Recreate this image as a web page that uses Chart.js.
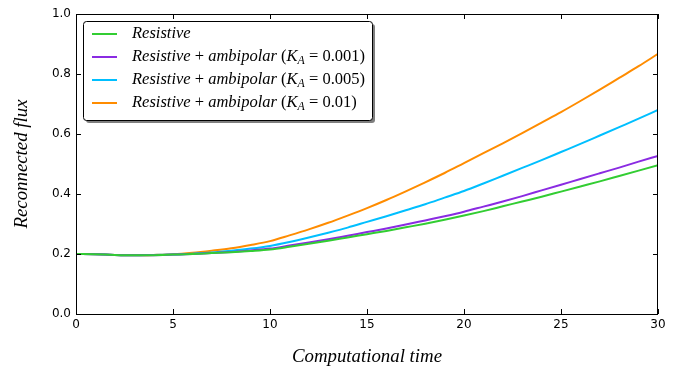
<!DOCTYPE html>
<html>
<head>
<meta charset="utf-8">
<script src="https://cdn.jsdelivr.net/npm/chart.js@4/dist/chart.umd.min.js"></script>
<style>
  html, body { margin: 0; padding: 0; background: #fff; }
  #wrap { width: 688px; height: 369px; }
</style>
</head>
<body>
<div id="wrap"><canvas id="c" width="688" height="369"></canvas></div>
<script>
// Computational time samples
const time = [0,1,2,3,4,5,6,7,8,9,10,11,12,13,14,15,16,17,18,19,20,21,22,23,24,25,26,27,28,29,30];

// Reconnected flux for each run
const resistive = [0.200,0.199,0.197,0.196,0.196,0.198,0.200,0.203,0.206,0.210,0.215,0.224,0.234,0.244,0.255,0.266,0.277,0.289,0.301,0.314,0.328,0.343,0.359,0.375,0.391,0.408,0.425,0.442,0.460,0.478,0.496];
const ambipolar001 = [0.200,0.199,0.197,0.196,0.196,0.198,0.200,0.203,0.207,0.212,0.218,0.228,0.238,0.249,0.261,0.273,0.285,0.298,0.312,0.326,0.341,0.358,0.375,0.393,0.412,0.431,0.450,0.469,0.488,0.508,0.527];
const ambipolar005 = [0.200,0.199,0.197,0.196,0.197,0.198,0.201,0.205,0.211,0.218,0.227,0.240,0.255,0.271,0.288,0.307,0.326,0.346,0.366,0.388,0.410,0.435,0.461,0.487,0.513,0.540,0.567,0.595,0.623,0.651,0.680];
const ambipolar01 = [0.200,0.199,0.197,0.196,0.197,0.199,0.204,0.211,0.219,0.230,0.243,0.262,0.282,0.304,0.328,0.353,0.380,0.409,0.439,0.470,0.503,0.536,0.569,0.603,0.638,0.673,0.710,0.748,0.787,0.826,0.867];

// Ambipolar coefficients shown in the legend (null = purely resistive run)
const kaValues = [null, '0.001', '0.005', '0.01'];
const seriesColors = ['#32cd32', '#8a2be2', '#00bfff', '#ff8c00'];

const xTicks = [0, 5, 10, 15, 20, 25, 30];
const yTicks = [0.0, 0.2, 0.4, 0.6, 0.8, 1.0];

const xTitle = 'Computational time';
const yTitle = 'Reconnected flux';

const seriesValues = [resistive, ambipolar001, ambipolar005, ambipolar01];

const datasets = seriesValues.map((vals, i) => ({
  label: kaValues[i] === null ? 'Resistive' : 'Resistive + ambipolar (K_A = ' + kaValues[i] + ')',
  data: time.map((t, j) => ({ x: t, y: vals[j] })),
  borderColor: seriesColors[i],
  backgroundColor: seriesColors[i],
  borderWidth: 2,
  pointRadius: 0,
  cubicInterpolationMode: 'monotone',
  fill: false
}));

const SERIF = '"Liberation Serif", "DejaVu Serif", serif';

function fitFont(ctx, text, italic, targetWidth) {
  ctx.font = (italic ? 'italic ' : '') + '20px ' + SERIF;
  return 20 * targetWidth / ctx.measureText(text).width;
}

// Draws a run of text pieces: italic math letters, upright symbols and digits, subscripts
function drawRich(ctx, pieces, x, y, size) {
  let cx = x;
  pieces.forEach(p => {
    const s = p.sub ? size * 0.72 : size;
    ctx.font = (p.italic ? 'italic ' : '') + s.toFixed(2) + 'px ' + SERIF;
    ctx.fillText(p.t, cx, p.sub ? y + size * 0.22 : y);
    cx += ctx.measureText(p.t).width;
  });
  return cx - x;
}

function legendPieces(ka) {
  const pieces = [{ t: 'Resistive', italic: true }];
  if (ka !== null) {
    pieces.push({ t: ' + ', italic: false });
    pieces.push({ t: 'ambipolar', italic: true });
    pieces.push({ t: ' (', italic: false });
    pieces.push({ t: 'K', italic: true });
    pieces.push({ t: 'A', italic: true, sub: true });
    pieces.push({ t: ' = ' + ka + ')', italic: false });
  }
  return pieces;
}

const framePlugin = {
  id: 'frameAndLegend',
  afterDraw(chart) {
    const ctx = chart.ctx;
    const a = chart.chartArea;
    const xs = chart.scales.x, ys = chart.scales.y;
    ctx.save();

    // axes frame
    ctx.strokeStyle = '#000';
    ctx.lineWidth = 1;
    ctx.strokeRect(Math.round(a.left) + 0.5, Math.round(a.top) + 0.5,
                   Math.round(a.right - a.left) - 1, Math.round(a.bottom - a.top));

    // inward tick marks on all four sides
    const tl = 5;
    ctx.beginPath();
    xTicks.forEach(v => {
      const px = Math.round(xs.getPixelForValue(v)) + 0.5;
      ctx.moveTo(px, a.bottom); ctx.lineTo(px, a.bottom - tl);
      ctx.moveTo(px, a.top); ctx.lineTo(px, a.top + tl);
    });
    yTicks.forEach(v => {
      const py = Math.round(ys.getPixelForValue(v)) + 0.5;
      ctx.moveTo(a.left, py); ctx.lineTo(a.left + tl, py);
      ctx.moveTo(a.right, py); ctx.lineTo(a.right - tl, py);
    });
    ctx.stroke();

    // axis titles
    ctx.fillStyle = '#000';
    ctx.textAlign = 'center';
    ctx.textBaseline = 'middle';
    const ts = fitFont(ctx, xTitle, true, 150);
    ctx.font = 'italic ' + ts.toFixed(2) + 'px ' + SERIF;
    ctx.fillText(xTitle, (a.left + a.right) / 2, 357);
    ctx.save();
    ctx.translate(22, 164);
    ctx.rotate(-Math.PI / 2);
    ctx.font = 'italic ' + ts.toFixed(2) + 'px ' + SERIF;
    ctx.fillText(yTitle, 0, 0);
    ctx.restore();

    // legend with drop shadow
    const bx = 83, by = 21, bw = 289, bh = 99, r = 3;
    const rr = (x, y, w, h) => {
      ctx.beginPath();
      ctx.moveTo(x + r, y);
      ctx.arcTo(x + w, y, x + w, y + h, r);
      ctx.arcTo(x + w, y + h, x, y + h, r);
      ctx.arcTo(x, y + h, x, y, r);
      ctx.arcTo(x, y, x + w, y, r);
      ctx.closePath();
    };
    rr(bx + 3, by + 3, bw, bh);
    ctx.fillStyle = 'rgba(0,0,0,0.5)';
    ctx.fill();
    rr(bx + 0.5, by + 0.5, bw, bh);
    ctx.fillStyle = '#fff';
    ctx.fill();
    ctx.strokeStyle = '#000';
    ctx.lineWidth = 1;
    ctx.stroke();

    // size the legend font from the widest entry
    ctx.textAlign = 'left';
    ctx.textBaseline = 'middle';
    ctx.fillStyle = '#000';
    const wide = legendPieces(kaValues[1]);
    let w14 = 0;
    wide.forEach(p => {
      const s = p.sub ? 14 * 0.72 : 14;
      ctx.font = (p.italic ? 'italic ' : '') + s + 'px ' + SERIF;
      w14 += ctx.measureText(p.t).width;
    });
    const size = 14 * 233 / w14;

    chart.data.datasets.forEach((ds, i) => {
      const y = 34 + i * 23;
      ctx.strokeStyle = ds.borderColor;
      ctx.lineWidth = 2;
      ctx.beginPath();
      ctx.moveTo(92, y); ctx.lineTo(117, y);
      ctx.stroke();
      ctx.fillStyle = '#000';
      drawRich(ctx, legendPieces(kaValues[i]), 132, y, size);
    });
    ctx.restore();
  }
};

new Chart(document.getElementById('c'), {
  type: 'line',
  data: { datasets },
  options: {
    responsive: false,
    animation: false,
    devicePixelRatio: 1,
    layout: { padding: { top: 14, right: 30, left: 0, bottom: 0 } },
    plugins: { legend: { display: false }, tooltip: { enabled: false } },
    scales: {
      x: {
        type: 'linear',
        min: 0, max: 30,
        afterBuildTicks: s => { s.ticks = xTicks.map(v => ({ value: v })); },
        afterFit: s => { s.height = 55; },
        grid: { display: false, drawTicks: false },
        border: { display: false },
        ticks: {
          color: '#000', padding: 4, maxRotation: 0, autoSkip: false,
          font: { family: '"DejaVu Sans"', size: 12 },
          callback: v => String(v)
        }
      },
      y: {
        type: 'linear',
        min: 0, max: 1,
        afterBuildTicks: s => { s.ticks = yTicks.map(v => ({ value: v })); },
        afterFit: s => { s.width = 76; },
        grid: { display: false, drawTicks: false },
        border: { display: false },
        ticks: {
          color: '#000', padding: 5, autoSkip: false,
          font: { family: '"DejaVu Sans"', size: 12 },
          callback: v => Number(v).toFixed(1)
        }
      }
    }
  },
  plugins: [framePlugin]
});
</script>
</body>
</html>
